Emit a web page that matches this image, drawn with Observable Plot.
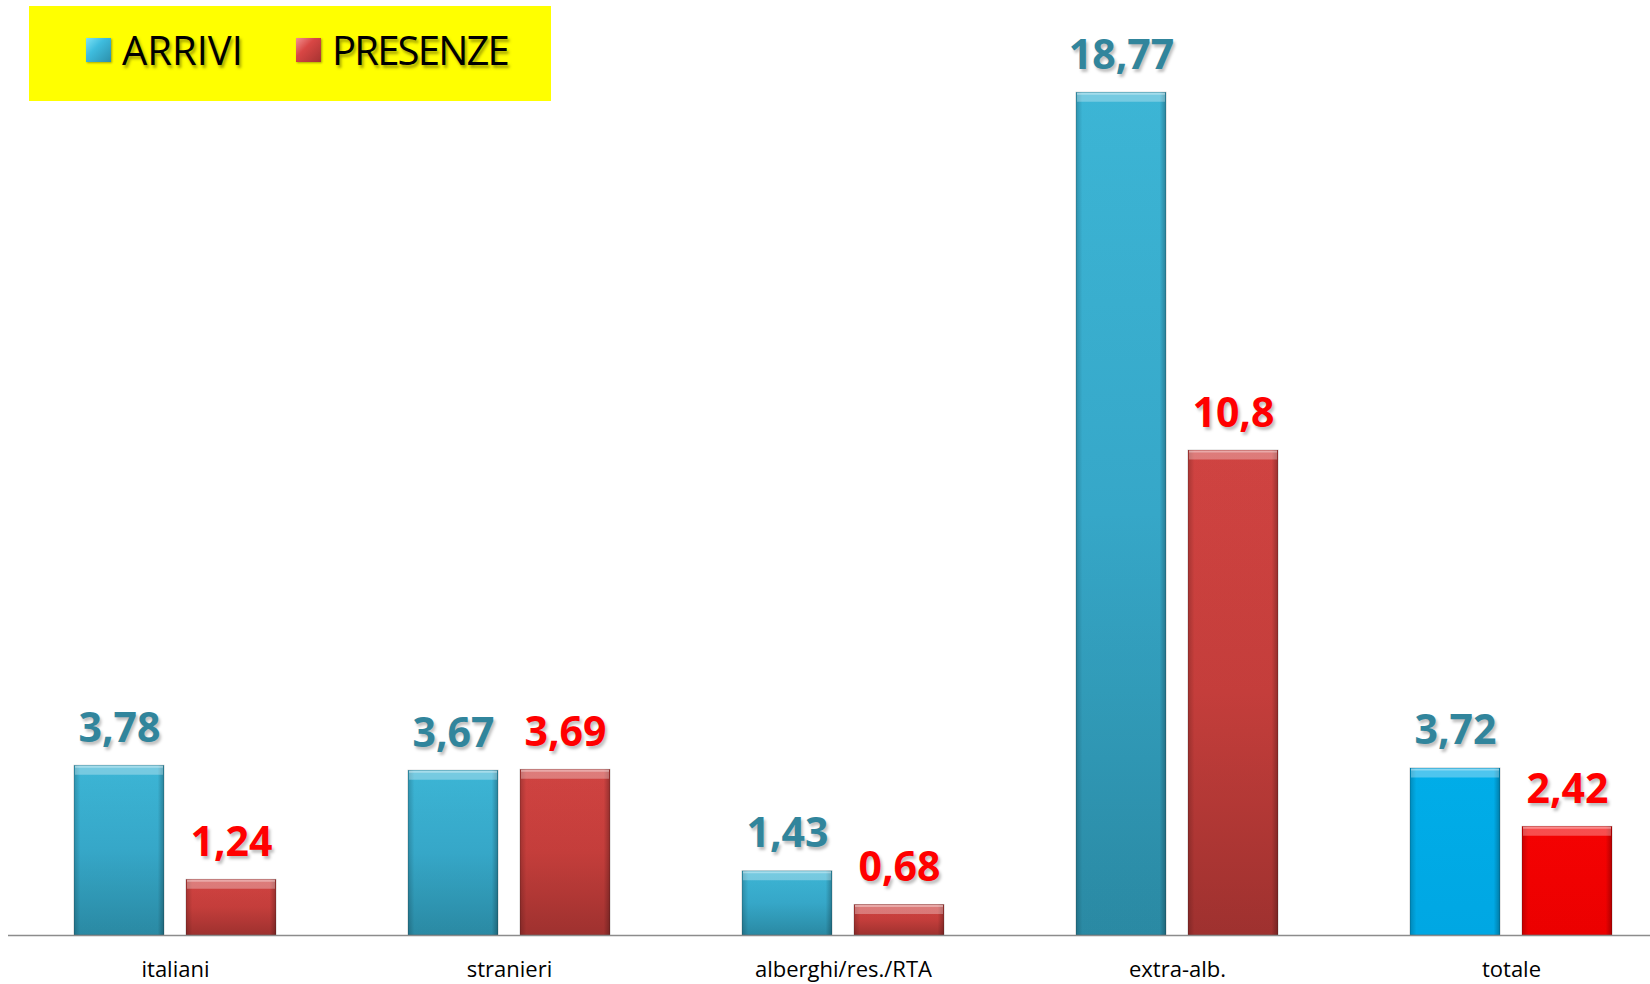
<!DOCTYPE html>
<html>
<head>
<meta charset="utf-8">
<script src="https://cdn.jsdelivr.net/npm/d3@7"></script>
<script src="https://cdn.jsdelivr.net/npm/@observablehq/plot@0.6"></script>
<style>
  html, body { margin: 0; padding: 0; background: #fff; }
  #wrap { position: relative; width: 1650px; height: 984px; }
  #legend {
    position: absolute; left: 29px; top: 6px; width: 522px; height: 95px;
    background: #FFFF00; font-family: "Open Sans", sans-serif; font-size: 40px; color: #000;
  }
  .li { position: absolute; top: 15px; display: flex; align-items: center; height: 58px; }
  .sw { width: 25px; height: 24px; margin-right: 11px; }
  .lt { text-shadow: 2px 3px 3px rgba(90, 90, 0, 0.55); line-height: 58px; }
  svg g.val text { text-shadow: 2px 3px 3px rgba(0,0,0,0.25); }
</style>
</head>
<body>
<div id="wrap">
  <div id="chart"></div>
  <div id="legend"></div>
</div>
<script>
const categories = ["italiani", "stranieri", "alberghi/res./RTA", "extra-alb.", "totale"];
const seriesNames = ["ARRIVI", "PRESENZE"];
const arrivi = [3.78, 3.67, 1.43, 18.77, 3.72];
const presenze = [1.24, 3.69, 0.68, 10.8, 2.42];

const rows = [];
categories.forEach((c, i) => {
  rows.push({cat: c, series: seriesNames[0], value: arrivi[i]});
  rows.push({cat: c, series: seriesNames[1], value: presenze[i]});
});

const fillFor = d => d.cat === categories[categories.length - 1]
  ? (d.series === seriesNames[0] ? "url(#gTA)" : "url(#gTP)")
  : (d.series === seriesNames[0] ? "url(#gA)" : "url(#gP)");
const labelColor = d => d.series === seriesNames[0] ? "#31859C" : "#FF0000";
const fmt = v => String(v).replace(".", ",");

const chart = Plot.plot({
  width: 1650,
  height: 984,
  marginTop: 37,
  marginBottom: 49,
  marginLeft: 9,
  marginRight: 0,
  style: {fontFamily: "'Open Sans', sans-serif", background: "transparent", overflow: "visible"},
  fx: {domain: categories, range: [8.2, 1678.5], padding: 0, label: null},
  x: {domain: seriesNames, paddingInner: 0.196, paddingOuter: 0.588, axis: null},
  y: {domain: [0, 20], axis: null},
  color: {type: "identity"},
  marks: [
    Plot.barY(rows, {fx: "cat", x: "series", y: "value", fill: fillFor}),
    Plot.barY(rows, {fx: "cat", x: "series", y: "value", fill: "url(#edge)", stroke: "rgba(0,0,0,0.2)", strokeWidth: 1}),
    Plot.tickY(rows, {fx: "cat", x: "series", y: "value", stroke: "#fff", strokeOpacity: 0.3, strokeWidth: 9, dy: 4.5, inset: 1}),
    Plot.tickY(rows, {fx: "cat", x: "series", y: "value", stroke: "#fff", strokeOpacity: 0.35, strokeWidth: 2, dy: 1, inset: 1}),
    Plot.ruleY([0], {stroke: "#8c8c8c", strokeWidth: 1.3}),
    Plot.axisFx({anchor: "bottom", tickSize: 0, tickPadding: 26, fontSize: 22, fill: "#000", label: null}),
    Plot.text(rows, {fx: "cat", x: "series", y: "value", text: d => fmt(d.value), fill: labelColor,
      dy: -24, lineAnchor: "bottom", fontSize: 41, fontWeight: 700, className: "val"})
  ]
});

// gradients
const defs = d3.select(chart).insert("defs", ":first-child");
function grad(id, stops, horiz) {
  const g = defs.append("linearGradient").attr("id", id).attr("x1", 0).attr("y1", 0)
    .attr("x2", horiz ? 1 : 0).attr("y2", horiz ? 0 : 1);
  stops.forEach(([o, c, op]) => g.append("stop").attr("offset", o).attr("stop-color", c).attr("stop-opacity", op == null ? 1 : op));
}
grad("gA", [[0, "#3EBCDE"], [0.5, "#38AED0"], [1, "#2C8FAA"]]);
grad("gP", [[0, "#D84644"], [0.5, "#CC403D"], [1, "#A53331"]]);
grad("gTA", [[0, "#00B4F2"], [1, "#00AEEC"]]);
grad("gTP", [[0, "#FF0202"], [1, "#F50000"]]);
grad("edge", [[0, "#000", 0.22], [0.07, "#000", 0.04], [0.93, "#000", 0.04], [1, "#000", 0.3]], true);

document.getElementById("chart").appendChild(chart);

// legend
const legend = document.getElementById("legend");
const legendItems = [
  {name: seriesNames[0], left: 57, ls: 0, bg: "linear-gradient(135deg, #7FE3F7 0%, #3EBCDE 40%, #2C8FAA 100%)"},
  {name: seriesNames[1], left: 267, ls: -1.8, bg: "linear-gradient(135deg, #F39391 0%, #D84644 40%, #A53331 100%)"}
];
legendItems.forEach(it => {
  const el = document.createElement("div");
  el.className = "li";
  el.style.left = it.left + "px";
  el.innerHTML = `<div class="sw" style="background:${it.bg};box-shadow:1px 1px 2px rgba(0,0,0,0.35)"></div><span class="lt" style="letter-spacing:${it.ls}px">${it.name}</span>`;
  legend.appendChild(el);
});
</script>
</body>
</html>
